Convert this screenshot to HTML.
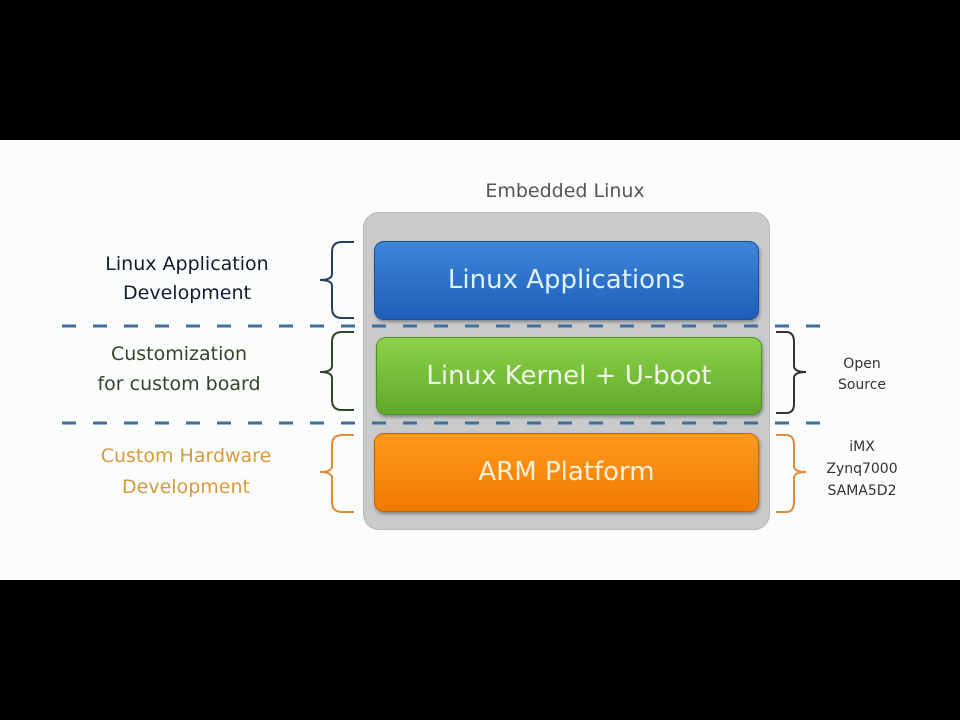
<!DOCTYPE html>
<html><head><style>
body{margin:0;width:960px;height:720px;background:#000;position:relative;overflow:hidden;font-family:"DejaVu Sans","Liberation Sans",sans-serif}
.w{position:absolute;left:0;top:140px;width:960px;height:440px;background:#fbfcfc}
.t{position:absolute;text-align:center;white-space:nowrap}
.box{position:absolute;border-radius:10px;color:#eef8e6;font-size:26px;text-align:center;box-shadow:1px 2px 3px rgba(0,0,0,.35)}
</style></head><body>
<div class="w"></div>
<div class="t" style="left:415px;top:180px;width:300px;font-size:19px;color:#555">Embedded Linux</div>
<div style="position:absolute;left:363px;top:212px;width:405px;height:316px;border-radius:16px;background:#c8cacb;border:1px solid #b8baba"></div>
<div class="box" style="left:374px;top:241px;width:383px;height:77px;line-height:77px;background:linear-gradient(#3d86d8,#1f5eb8);border:1px solid #1a4f99;color:#dff2ff">Linux Applications</div>
<div class="box" style="left:376px;top:337px;width:384px;height:76px;line-height:76px;background:linear-gradient(#8ed24a,#5fa82a);border:1px solid #4f8f22">Linux Kernel + U-boot</div>
<div class="box" style="left:374px;top:433px;width:383px;height:77px;line-height:77px;background:linear-gradient(#ff9a1e,#f07a00);border:1px solid #c86400;color:#fff1d8">ARM Platform</div>
<svg width="960" height="720" style="position:absolute;left:0;top:0">
<g stroke="#3f6f9a" stroke-width="3" stroke-dasharray="14,17">
<line x1="62" y1="326" x2="820" y2="326"/><line x1="62" y1="423" x2="820" y2="423"/></g>
<g fill="none" stroke-width="2">
<path d="M354 242 H342 Q332 242 332 252 V274 Q332 280 320 280 Q332 280 332 286 V308 Q332 318 342 318 H354" stroke="#2a3e5a"/>
<path d="M354 332 H342 Q332 332 332 342 V366 Q332 372 320 372 Q332 372 332 378 V400 Q332 410 342 410 H354" stroke="#33452a"/>
<path d="M354 435 H342 Q332 435 332 445 V466 Q332 472 320 472 Q332 472 332 478 V502 Q332 512 342 512 H354" stroke="#e08a3a"/>
<path d="M776 332 H786 Q794 332 794 342 V366 Q794 372 806 372 Q794 372 794 378 V404 Q794 413 786 413 H776" stroke="#333"/>
<path d="M776 435 H786 Q794 435 794 445 V466 Q794 472 806 472 Q794 472 794 478 V502 Q794 512 786 512 H776" stroke="#e08a3a"/>
</g></svg>
<div class="t" style="left:67px;top:250px;width:240px;font-size:19px;line-height:29px;color:#121c2c">Linux Application<br>Development</div>
<div class="t" style="left:59px;top:339px;width:240px;font-size:19px;line-height:30px;color:#34452a">Customization<br>for custom board</div>
<div class="t" style="left:66px;top:441px;width:240px;font-size:19px;line-height:31px;color:#d89a3a">Custom Hardware<br>Development</div>
<div class="t" style="left:812px;top:354px;width:100px;font-size:14px;line-height:21px;color:#333">Open<br>Source</div>
<div class="t" style="left:812px;top:436px;width:100px;font-size:14px;line-height:22px;color:#333">iMX<br>Zynq7000<br>SAMA5D2</div>
</body></html>
